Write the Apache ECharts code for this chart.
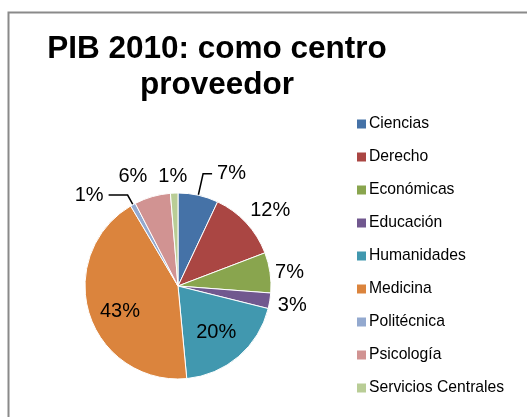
<!DOCTYPE html>
<html>
<head>
<meta charset="utf-8">
<script src="https://cdn.jsdelivr.net/npm/echarts@6/dist/echarts.min.js"></script>
<style>
  html, body { margin: 0; padding: 0; background: #fff; }
  #chart { width: 527px; height: 417px; }
</style>
</head>
<body>
<div id="chart"></div>
<script>
var categories = ['Ciencias', 'Derecho', 'Económicas', 'Educación', 'Humanidades',
    'Medicina', 'Politécnica', 'Psicología', 'Servicios Centrales'];
// share of total
var shares = [7.0, 12.2, 7.0, 2.7, 19.6, 43.0, 0.9, 6.3, 1.3];

var sliceColors = ['#4572A7', '#AA4643', '#89A54E', '#71588F', '#4198AF',
    '#DB843D', '#93A9CF', '#D19392', '#B9CD96'];
// label tweaks: [position, show line, line length, line length2, dx, dy]
var labelSetup = [
    ['outside', true, 22, 9, 0, 0],
    ['outside', false, 0, 0, -1, -12],
    ['outside', false, 0, 0, 0, 0],
    ['outside', false, 0, 0, 3, 5],
    ['inside', false, 0, 0, 6, 9],
    ['inside', false, 0, 0, -11, 10],
    ['outside', true, 11, 19, 0, 0],
    ['outside', false, 0, 0, 0, -20],
    ['outside', false, 0, 0, 18, -17]
];

var font = 'Liberation Sans, Arial, sans-serif';

var myChart = echarts.init(document.getElementById('chart'));

var pieData = [];
for (var i = 0; i < categories.length; i++) {
    var s = labelSetup[i];
    pieData.push({
        name: categories[i],
        value: shares[i],
        itemStyle: { color: sliceColors[i] },
        label: { position: s[0] },
        labelLine: { show: s[1], length: s[2], length2: s[3] }
    });
}

var option = {
    animation: false,
    backgroundColor: '#fff',
    graphic: [{
        type: 'rect',
        silent: true,
        shape: { x: 8.5, y: 12.5, width: 600, height: 500 },
        style: { fill: 'none', stroke: '#8a8a8a', lineWidth: 2 }
    }],
    title: {
        text: 'PIB 2010: como centro\nproveedor',
        left: 212,
        top: 26,
        textAlign: 'center',
        textStyle: {
            fontFamily: font,
            fontSize: 31.5,
            fontWeight: 'bold',
            color: '#000',
            lineHeight: 36
        }
    },
    legend: {
        orient: 'vertical',
        left: 352,
        top: 111,
        itemWidth: 9,
        itemHeight: 9,
        itemGap: 17,
        icon: 'rect',
        itemStyle: { borderWidth: 0 },
        data: categories,
        textStyle: { fontFamily: font, fontSize: 15.7, color: '#000', padding: [0, 0, 0, -2] }
    },
    series: [{
        type: 'pie',
        center: [178, 286],
        radius: 93,
        startAngle: 90,
        clockwise: true,
        avoidLabelOverlap: false,
        itemStyle: { borderColor: '#fff', borderWidth: 1 },
        label: {
            fontFamily: font,
            fontSize: 20,
            color: '#000',
            formatter: function (p) {
                return Math.round(p.percent) + '%';
            }
        },
        labelLine: {
            lineStyle: { color: '#000', width: 1.5 }
        },
        labelLayout: function (p) {
            var s = labelSetup[p.dataIndex];
            return { dx: s[4], dy: s[5] };
        },
        emphasis: { disabled: true },
        data: pieData
    }]
};
myChart.setOption(option);
</script>
</body>
</html>
